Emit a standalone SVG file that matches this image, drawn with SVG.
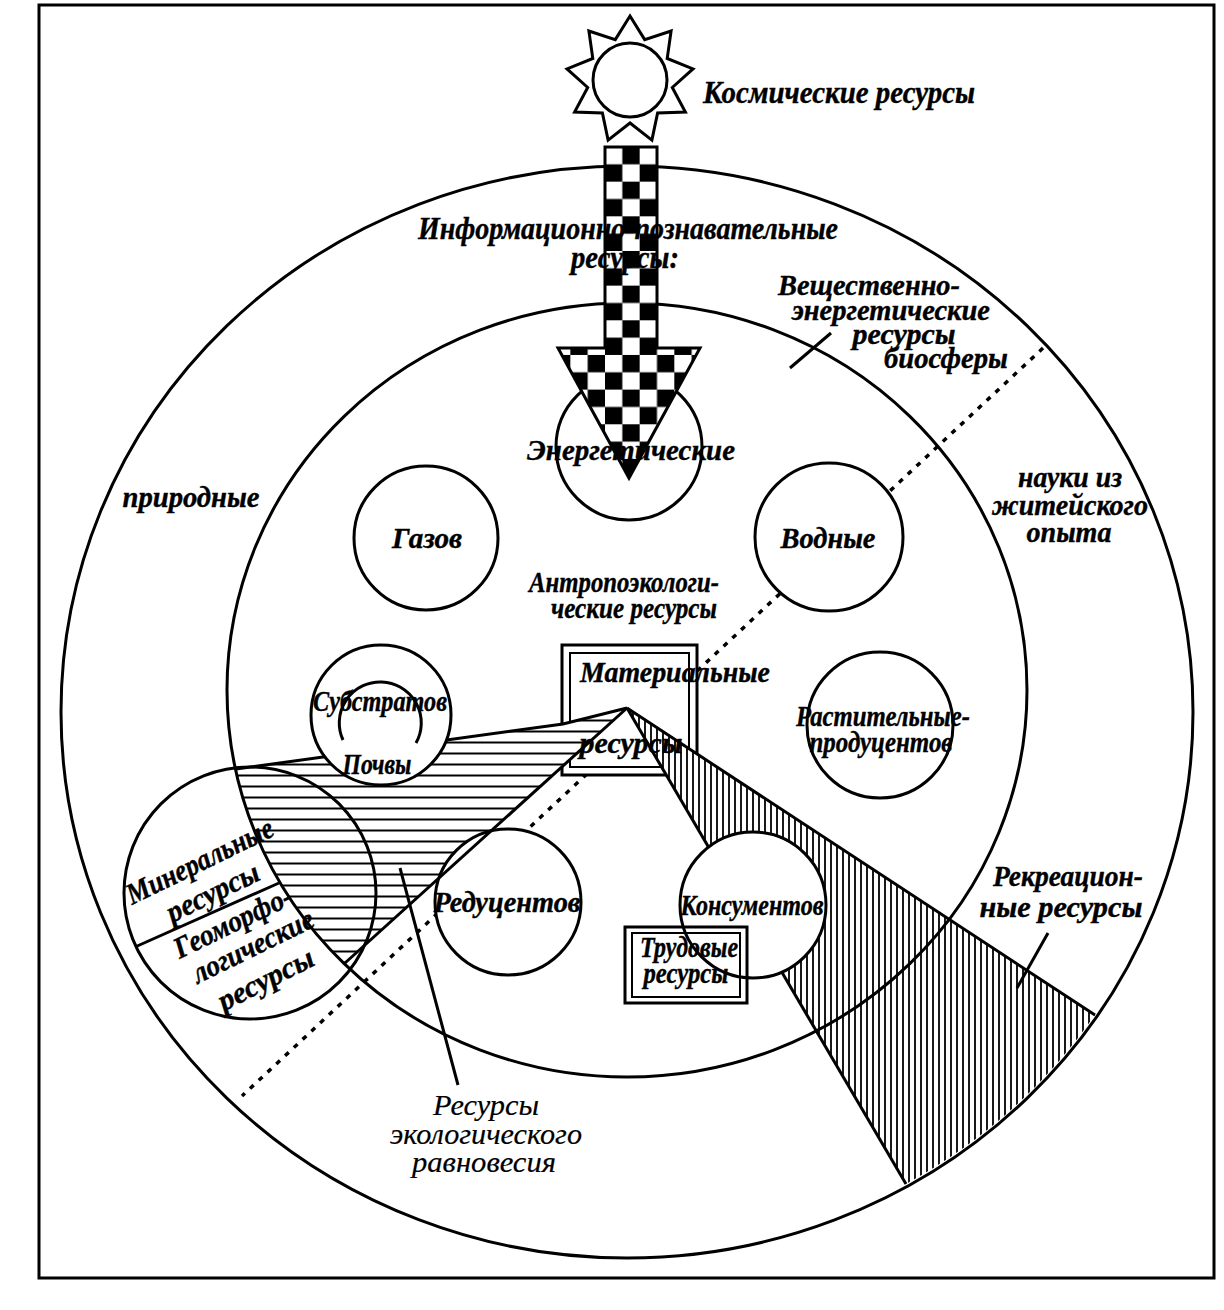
<svg xmlns="http://www.w3.org/2000/svg" width="1224" height="1310" viewBox="0 0 1224 1310">
<defs>
<style>
.ln{fill:none;stroke:#000;stroke-width:3}
.wc{fill:#fff;stroke:#000;stroke-width:3}
.t{font-family:"Liberation Serif","Times New Roman",serif;font-style:italic;font-weight:bold;font-size:30px;fill:#000;stroke:#000;stroke-width:0.4;text-anchor:middle}
.big{font-size:31px}
.n{font-weight:normal;stroke-width:0.2}
</style>
<pattern id="checker" patternUnits="userSpaceOnUse" x="605" y="147" width="34.66" height="34.66">
<rect width="34.66" height="34.66" fill="#fff"/>
<rect x="17.33" y="0" width="17.33" height="17.33" fill="#000"/>
<rect x="0" y="17.33" width="17.33" height="17.33" fill="#000"/>
</pattern>
<pattern id="hh" patternUnits="userSpaceOnUse" x="0" y="0" width="20" height="11">
<rect width="20" height="11" fill="#fff"/>
<line x1="0" y1="5.5" x2="20" y2="5.5" stroke="#000" stroke-width="2"/>
</pattern>
<pattern id="vh" patternUnits="userSpaceOnUse" x="0" y="0" width="6" height="20">
<rect width="6" height="20" fill="#fff"/>
<line x1="3" y1="0" x2="3" y2="20" stroke="#000" stroke-width="1.8"/>
</pattern>
</defs>
<rect x="0" y="0" width="1224" height="1310" fill="#fff"/>

<g id="frame"><rect x="39" y="5" width="1175" height="1273" class="ln" stroke-width="3.5"/></g>

<g id="connectors">
<line id="dotted-divider" x1="1043" y1="348" x2="242" y2="1096" stroke="#000" stroke-width="3.5" stroke-dasharray="5 7"/>
</g>

<g id="node-material">
<rect x="562" y="645" width="135" height="130" class="wc"/>
<rect x="570" y="653" width="119" height="114" fill="none" stroke="#000" stroke-width="2"/>
</g>

<g id="hatch-ecological">
<path d="M 236 769 L 563 724 L 627 708 L 345 963 A 400 387 0 0 1 236 769 Z" fill="url(#hh)"/>
<polyline points="236,769 563,724 627,708" class="ln"/>
</g>

<g id="hatch-recreation">
<path d="M 627 708 L 1095 1015 A 566 546 0 0 1 906 1184 Z" fill="url(#vh)"/>
<line x1="627" y1="708" x2="1095" y2="1015" class="ln"/>
<line x1="627" y1="708" x2="906" y2="1184" class="ln"/>
</g>

<g id="rings">
<ellipse cx="627" cy="712" rx="566" ry="546" class="ln"/>
<ellipse cx="627" cy="690" rx="400" ry="387" class="ln"/>
</g>

<g id="node-energy"><circle cx="629" cy="447" r="73" class="wc"/></g>
<g id="node-gases"><circle cx="426" cy="538" r="72" class="wc"/></g>
<g id="node-water"><circle cx="829" cy="537" r="74" class="wc"/></g>
<g id="node-substrates">
<circle cx="381" cy="715" r="70" class="wc"/>
<path d="M 343 740 A 41 41 0 1 1 416 743" class="ln"/>
</g>
<g id="node-producers"><circle cx="880" cy="725" r="73" class="wc"/></g>
<g id="node-reducers"><circle cx="508" cy="902" r="73" class="wc"/></g>
<g id="node-consumers-fill"><circle cx="753" cy="905" r="73" fill="#fff"/></g>

<g id="diagonal">
<line x1="627" y1="708" x2="345" y2="963" class="ln"/>
</g>

<g id="node-mineral">
<circle cx="250" cy="893" r="126" class="ln"/>
<line x1="135" y1="947" x2="279" y2="883" class="ln"/>
</g>

<g id="node-labor">
<rect x="625" y="927" width="122" height="76" class="wc" stroke-width="3.5"/>
<rect x="632" y="933" width="108" height="64" fill="none" stroke="#000" stroke-width="2"/>
</g>
<g id="node-consumers"><circle cx="753" cy="905" r="73" class="ln"/></g>

<g id="sun">
<polygon points="630,16 644.7,39.6 671.1,31 667.2,58.5 693,68.9 672.3,87.5 685.4,112 657.6,112.9 651.9,140.1 630,123 608.1,140.1 602.4,112.9 574.6,112 587.7,87.5 567,68.9 592.8,58.5 588.9,31 615.3,39.6" class="wc"/>
<circle cx="630" cy="80" r="37" class="ln"/>
</g>

<g id="arrow">
<polygon points="605,147 657,147 657,348 700,348 629,478 558,348 605,348" fill="url(#checker)" stroke="#000" stroke-width="3"/>
</g>

<g id="pointers">
<line x1="790" y1="368" x2="831" y2="333" class="ln"/>
<line x1="400" y1="868" x2="458" y2="1085" class="ln"/>
<line x1="1048" y1="933" x2="1017" y2="988" class="ln"/>
</g>

<g id="labels">
<text class="t big" x="839" y="103" textLength="272" lengthAdjust="spacingAndGlyphs">Космические ресурсы</text>
<text class="t big" x="628" y="239" textLength="420" lengthAdjust="spacingAndGlyphs">Информационно-познавательные</text>
<text class="t big" x="625" y="268" textLength="108" lengthAdjust="spacingAndGlyphs">ресурсы:</text>
<text class="t" x="869" y="295" textLength="182" lengthAdjust="spacingAndGlyphs">Вещественно-</text>
<text class="t" x="891" y="320" textLength="198" lengthAdjust="spacingAndGlyphs">энергетические</text>
<text class="t" x="904" y="344" textLength="103" lengthAdjust="spacingAndGlyphs">ресурсы</text>
<text class="t" x="946" y="368" textLength="124" lengthAdjust="spacingAndGlyphs">биосферы</text>
<text class="t" x="631" y="460" textLength="208" lengthAdjust="spacingAndGlyphs">Энергетические</text>
<text class="t" x="427" y="548" textLength="70" lengthAdjust="spacingAndGlyphs">Газов</text>
<text class="t" x="828" y="548" textLength="95" lengthAdjust="spacingAndGlyphs">Водные</text>
<text class="t" x="624" y="592" textLength="190" lengthAdjust="spacingAndGlyphs">Антропоэкологи-</text>
<text class="t" x="634" y="618" textLength="166" lengthAdjust="spacingAndGlyphs">ческие ресурсы</text>
<text class="t" x="675" y="682" textLength="190" lengthAdjust="spacingAndGlyphs">Материальные</text>
<text class="t" x="631" y="753" textLength="103" lengthAdjust="spacingAndGlyphs">ресурсы</text>
<text class="t" x="380" y="711" textLength="134" lengthAdjust="spacingAndGlyphs">Субстратов</text>
<text class="t" x="377" y="774" font-size="27" textLength="69" lengthAdjust="spacingAndGlyphs">Почвы</text>
<text class="t" x="883" y="726" font-size="26" textLength="174" lengthAdjust="spacingAndGlyphs">Растительные-</text>
<text class="t" x="881" y="752" font-size="26" textLength="143" lengthAdjust="spacingAndGlyphs">продуцентов</text>
<text class="t" x="191" y="507" textLength="137" lengthAdjust="spacingAndGlyphs">природные</text>
<text class="t" x="1070" y="487" textLength="104" lengthAdjust="spacingAndGlyphs">науки из</text>
<text class="t" x="1070" y="515" textLength="156" lengthAdjust="spacingAndGlyphs">житейского</text>
<text class="t" x="1069" y="542" textLength="85" lengthAdjust="spacingAndGlyphs">опыта</text>
<text class="t" x="507" y="912" textLength="147" lengthAdjust="spacingAndGlyphs">Редуцентов</text>
<text class="t" x="752" y="915" font-size="27" textLength="143" lengthAdjust="spacingAndGlyphs">Консументов</text>
<text class="t" x="689" y="957" font-size="25" textLength="98" lengthAdjust="spacingAndGlyphs">Трудовые</text>
<text class="t" x="686" y="983" font-size="25" textLength="85" lengthAdjust="spacingAndGlyphs">ресурсы</text>
<text class="t" x="1068" y="886" textLength="150" lengthAdjust="spacingAndGlyphs">Рекреацион-</text>
<text class="t" x="1061" y="917" textLength="163" lengthAdjust="spacingAndGlyphs">ные ресурсы</text>
<text class="t n" x="486" y="1115" textLength="106" lengthAdjust="spacingAndGlyphs">Ресурсы</text>
<text class="t n" x="486" y="1144" textLength="192" lengthAdjust="spacingAndGlyphs">экологического</text>
<text class="t n" x="484" y="1172" textLength="144" lengthAdjust="spacingAndGlyphs">равновесия</text>
<text class="t" transform="translate(204,870) rotate(-26)" textLength="160" lengthAdjust="spacingAndGlyphs">Минеральные</text>
<text class="t" transform="translate(217,901) rotate(-26)" textLength="100" lengthAdjust="spacingAndGlyphs">ресурсы</text>
<text class="t" transform="translate(237,931) rotate(-26)" textLength="128" lengthAdjust="spacingAndGlyphs">Геоморфо-</text>
<text class="t" transform="translate(257,955) rotate(-26)" textLength="132" lengthAdjust="spacingAndGlyphs">логические</text>
<text class="t" transform="translate(270,988) rotate(-27)" textLength="104" lengthAdjust="spacingAndGlyphs">ресурсы</text>
</g>
</svg>
